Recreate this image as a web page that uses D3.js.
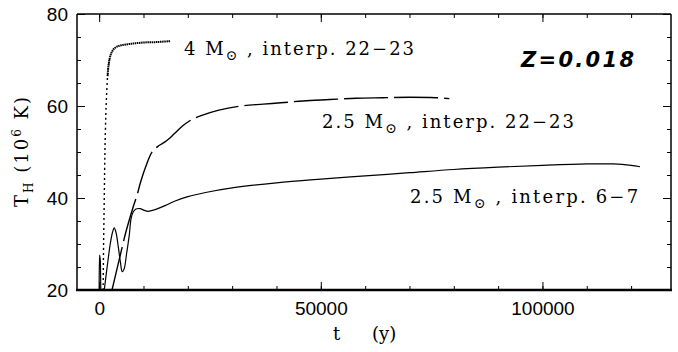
<!DOCTYPE html>
<html>
<head>
<meta charset="utf-8">
<script src="https://cdn.jsdelivr.net/npm/d3@7"></script>
<style>
  body { margin: 0; background: #fff; }
  svg { display: block; }
</style>
</head>
<body>
<svg id="chart" width="678" height="352"></svg>
<script>
// Central hydrogen-burning temperature T_H (10^6 K) against time t (y)

// 4 Msun, interpolation 22-23
const m4Time = [900, 1000, 1150, 1300, 1500, 1700, 1900, 2100, 2400, 2800, 3300, 4000, 5000, 7000, 10000, 13000, 16000];
const m4Temp = [20, 30, 40, 50, 58, 63, 66.5, 68.7, 70.5, 71.6, 72.4, 72.9, 73.2, 73.5, 73.8, 73.9, 74.1];

// 2.5 Msun, interpolation 22-23
const m25aTime = [2900, 4500, 6000, 7500, 8600, 9300, 10500, 12000, 13500, 15000, 17000, 19000, 21000, 23000, 27000, 32000, 37000, 41000, 46000, 52000, 58000, 64000, 70000, 76000, 79000];
const m25aTemp = [20, 26.5, 32.5, 37.5, 40.8, 43.3, 46.8, 50.1, 51.4, 52.3, 54, 55.8, 57.1, 57.9, 59.1, 60.0, 60.4, 60.7, 61.1, 61.4, 61.7, 61.8, 61.9, 61.8, 61.6];

// 2.5 Msun, interpolation 6-7
const m25bTime = [0, 100, 250, 500, 800, 1150, 1800, 2500, 3000, 3400, 3800, 4300, 4800, 5200, 5600, 6200, 6800, 7200, 7700, 8300, 9200, 10200, 11000, 12000, 13500, 15000, 17000, 20000, 24000, 30000, 40000, 50000, 60000, 70000, 80000, 90000, 100000, 110000, 116000, 120000, 122000];
const m25bTemp = [18, 27.6, 26.5, 18, 17, 20, 25, 30, 32.5, 33.5, 32.5, 29.5, 26, 24, 24.5, 28, 32, 35.5, 37, 37.6, 37.7, 37.3, 37.1, 37.3, 37.8, 38.4, 39.3, 40.3, 41.2, 42.2, 43.3, 44.1, 44.8, 45.5, 46.2, 46.7, 47.1, 47.4, 47.4, 47.1, 46.8];

// Axis ticks
const xMajorTicks = [0, 50000, 100000];
const xMinorStep = 10000;
const yMajorTicks = [20, 40, 60, 80];
const yMinorStep = 5;

// Annotation texts
const seriesLabels = [
  { mass: "4", interp: "22\u221223", x: 184, y: 55, width: 230 },
  { mass: "2.5", interp: "22\u221223", x: 322, y: 128, width: 252 },
  { mass: "2.5", interp: "6\u22127", x: 410, y: 203, width: 228 }
];
const metallicityLabel = "Z=0.018";

const svg = d3.select("#chart");
const box = { left: 77, right: 671, top: 14, bottom: 290 };

const x = d3.scaleLinear().domain([-5000, 129000]).range([box.left, box.right]);
const y = d3.scaleLinear().domain([20, 80]).range([box.bottom, box.top]);

const serif = "'DejaVu Serif', serif";
const sans = "'Liberation Sans', Arial, sans-serif";

// Clip curves to the plotting box
svg.append("defs").append("clipPath").attr("id", "plot-clip")
  .append("rect").attr("x", box.left).attr("y", box.top)
  .attr("width", box.right - box.left).attr("height", box.bottom - box.top);

const xMinor = d3.range(0, 129000, xMinorStep);
const yMinor = d3.range(20, 80.1, yMinorStep);

function styleAxis(g) {
  g.select(".domain").remove();
  g.selectAll(".tick line").attr("stroke", "#000").attr("stroke-width", 1);
  g.selectAll("text").attr("fill", "#000").style("font-family", sans).style("font-size", "19px");
}

// Bottom: minor + major ticks with labels
svg.append("g").attr("transform", `translate(0,${box.bottom})`)
  .call(d3.axisBottom(x).tickValues(xMinor).tickSizeInner(-4).tickSizeOuter(0).tickFormat(""))
  .call(styleAxis);
svg.append("g").attr("transform", `translate(0,${box.bottom})`)
  .call(d3.axisBottom(x).tickValues(xMajorTicks).tickSizeInner(-8).tickSizeOuter(0).tickPadding(12).tickFormat(d3.format("d")))
  .call(styleAxis);
// Top
svg.append("g").attr("transform", `translate(0,${box.top})`)
  .call(d3.axisTop(x).tickValues(xMinor).tickSizeInner(-4).tickSizeOuter(0).tickFormat(""))
  .call(styleAxis);
svg.append("g").attr("transform", `translate(0,${box.top})`)
  .call(d3.axisTop(x).tickValues(xMajorTicks).tickSizeInner(-8).tickSizeOuter(0).tickFormat(""))
  .call(styleAxis);
// Left
svg.append("g").attr("transform", `translate(${box.left},0)`)
  .call(d3.axisLeft(y).tickValues(yMinor).tickSizeInner(-4).tickSizeOuter(0).tickFormat(""))
  .call(styleAxis);
svg.append("g").attr("transform", `translate(${box.left},0)`)
  .call(d3.axisLeft(y).tickValues(yMajorTicks).tickSizeInner(-8).tickSizeOuter(0).tickPadding(9).tickFormat(d3.format("d")))
  .call(styleAxis);
// Right
svg.append("g").attr("transform", `translate(${box.right},0)`)
  .call(d3.axisRight(y).tickValues(yMinor).tickSizeInner(-4).tickSizeOuter(0).tickFormat(""))
  .call(styleAxis);
svg.append("g").attr("transform", `translate(${box.right},0)`)
  .call(d3.axisRight(y).tickValues(yMajorTicks).tickSizeInner(-8).tickSizeOuter(0).tickFormat(""))
  .call(styleAxis);

// Frame
const frame = svg.append("g").attr("stroke", "#000").attr("fill", "none");
frame.append("line").attr("x1", box.left).attr("x2", box.right).attr("y1", box.top).attr("y2", box.top).attr("stroke-width", 1.5);
frame.append("line").attr("x1", box.left).attr("x2", box.left).attr("y1", box.top).attr("y2", box.bottom).attr("stroke-width", 1.5);
frame.append("line").attr("x1", box.right).attr("x2", box.right).attr("y1", box.top).attr("y2", box.bottom).attr("stroke-width", 1.5);
frame.append("line").attr("x1", box.left - 1).attr("x2", box.right + 1).attr("y1", box.bottom).attr("y2", box.bottom).attr("stroke-width", 2.6);

// Curves
const lineGen = d3.line().x(d => x(d[0])).y(d => y(d[1])).curve(d3.curveCatmullRom);
const zip = (ts, vs) => ts.map((t, i) => [t, vs[i]]);
const curves = svg.append("g").attr("clip-path", "url(#plot-clip)").attr("fill", "none").attr("stroke", "#000");

const m4 = zip(m4Time, m4Temp);
// steep rise drawn dotted, the plateau dense enough to look solid
curves.append("path").datum(m4.filter(d => d[0] <= 2400))
  .attr("d", lineGen)
  .attr("stroke-width", 1.4).attr("stroke-dasharray", "2,3");
curves.append("path").datum(m4.filter(d => d[0] >= 1900))
  .attr("d", lineGen)
  .attr("stroke-width", 2).attr("stroke-dasharray", "1.5,0.6");

curves.append("path").datum(zip(m25aTime, m25aTemp))
  .attr("d", lineGen)
  .attr("stroke-width", 1.4).attr("stroke-dasharray", "44,6");

curves.append("path").datum(zip(m25bTime, m25bTemp))
  .attr("d", lineGen)
  .attr("stroke-width", 1.2);

// Stretch a text element to a given width using letter spacing
function fitWidth(sel, width) {
  const node = sel.node();
  const w = node.getBBox().width;
  const n = node.textContent.length;
  if (n > 1) sel.attr("letter-spacing", ((width - w) / (n - 1)).toFixed(2));
}

// Series annotations
seriesLabels.forEach(l => {
  const t = svg.append("text").attr("x", l.x).attr("y", l.y)
    .style("font-family", serif).style("font-size", "18px").attr("fill", "#000");
  t.append("tspan").text(l.mass + " M");
  t.append("tspan").attr("dy", 5).style("font-size", "14px").text("\u2299");
  t.append("tspan").attr("dy", -5).text(" , interp. " + l.interp);
  fitWidth(t, l.width);
});

// Metallicity
const z = svg.append("text").attr("x", 521).attr("y", 67)
  .style("font-family", "'DejaVu Sans', sans-serif").style("font-size", "21px")
  .style("font-style", "italic").style("font-weight", "bold")
  .attr("fill", "#000").text(metallicityLabel);
fitWidth(z, 114);

// Axis titles
const xt = svg.append("text").attr("y", 340)
  .style("font-family", serif).style("font-size", "18px").attr("fill", "#000");
xt.append("tspan").attr("x", 333).text("t");
xt.append("tspan").attr("x", 372).text("(y)");

const yt = svg.append("text").attr("transform", "translate(28,207) rotate(-90)")
  .style("font-family", serif).style("font-size", "18px").attr("fill", "#000");
yt.append("tspan").text("T");
yt.append("tspan").attr("dy", 5).style("font-size", "12px").text("H");
yt.append("tspan").attr("dy", -5).text(" (10");
yt.append("tspan").attr("dy", -7).style("font-size", "12px").text("6");
yt.append("tspan").attr("dy", 7).text(" K)");
fitWidth(yt, 110);
</script>
</body>
</html>
